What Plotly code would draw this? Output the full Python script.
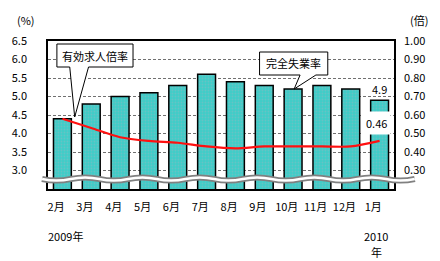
import plotly.graph_objects as go

months = ["2月", "3月", "4月", "5月", "6月", "7月", "8月", "9月", "10月", "11月", "12月", "1月"]
unemployment = [4.4, 4.8, 5.0, 5.1, 5.3, 5.6, 5.4, 5.3, 5.2, 5.3, 5.2, 4.9]
job_ratio = [0.58, 0.53, 0.48, 0.46, 0.45, 0.43, 0.42, 0.43, 0.43, 0.43, 0.43, 0.46]
left_ticks = [3.0, 3.5, 4.0, 4.5, 5.0, 5.5, 6.0, 6.5]
right_ticks = [0.30, 0.40, 0.50, 0.60, 0.70, 0.80, 0.90, 1.00]

FONT = "Noto Sans CJK JP"
W, H = 440, 261
ML, MR, MT, MB = 44, 46, 41, 72
PW, PH = W - ML - MR, H - MT - MB

def px(x):
    return (x - ML) / PW

def py(y):
    return (H - MB - y) / PH

xs = list(range(len(months)))

fig = go.Figure()
fig.add_trace(go.Bar(
    x=xs, y=unemployment, width=0.62,
    marker=dict(color="#3FC9C6", line=dict(color="black", width=1.5),
                pattern=dict(shape=".", fgcolor="#8FB8C0", bgcolor="#3FCCC8", size=3, solidity=0.3)),
    showlegend=False, yaxis="y",
))
fig.add_trace(go.Scatter(
    x=xs, y=job_ratio, mode="lines", yaxis="y2",
    line=dict(color="#FF1010", width=2.2, shape="spline", smoothing=0.8),
    showlegend=False,
))

# broken-axis squiggle
def wave_path(yc, amp, x0, x1, half):
    p = f"M {px(x0)},{py(yc)}"
    x = x0
    sign = 1
    while x < x1:
        xn = x + half
        cx = x + half / 2
        p += f" Q {px(cx)},{py(yc + sign * amp * 2)} {px(xn)},{py(yc)}"
        sign = -sign
        x = xn
    return p

wp = wave_path(179, 1.6, 38, 400, 29)
shapes = [
    dict(type="path", path=wp, xref="paper", yref="paper", line=dict(color="#808080", width=6), layer="above"),
    dict(type="path", path=wp, xref="paper", yref="paper", line=dict(color="white", width=2.5), layer="above"),
]

# callouts
def callout(x0, y0, x1, y1, b0, b1, tip):
    pts = [(x0, y0), (x1, y0), (x1, y1), (b1, y1), tip, (b0, y1), (x0, y1)]
    s = "M " + " L ".join(f"{px(a)},{py(b)}" for a, b in pts) + " Z"
    return dict(type="path", path=s, xref="paper", yref="paper",
                fillcolor="white", line=dict(color="black", width=1), layer="above")

shapes.append(callout(53, 44, 130, 67, 66, 85, (71, 117)))
shapes.append(callout(258, 52, 327, 75, 299, 315, (293, 89)))

def ptext(text, x, y, xanchor="center"):
    return dict(text=text, x=px(x), y=py(y), xref="paper", yref="paper", showarrow=False,
                xanchor=xanchor, yanchor="middle",
                font=dict(family=FONT, size=11, color="black"))

annotations = [
    ptext("有効求人倍率", 91.5, 55.5),
    ptext("完全失業率", 292.5, 63.5),
    ptext("(%)", 22, 20),
    ptext("(倍)", 419, 20),
    ptext("2009年", 42, 236, xanchor="left"),
    ptext("2010", 376, 236),
    ptext("年", 376, 252),
    dict(text=f"{unemployment[-1]:.1f}", x=xs[-1], y=unemployment[-1], xref="x", yref="y",
         showarrow=False, yanchor="bottom", yshift=1,
         font=dict(family=FONT, size=11, color="black")),
    dict(text=f"{job_ratio[-1]:.2f}", x=xs[-1], y=job_ratio[-1], xref="x", yref="y2",
         showarrow=False, yshift=18, xshift=-3, bgcolor="white", borderpad=3,
         font=dict(family=FONT, size=11, color="black")),
]

fig.update_layout(
    width=W, height=H,
    margin=dict(l=ML, r=MR, t=MT, b=MB),
    paper_bgcolor="white", plot_bgcolor="white",
    font=dict(family=FONT, size=11, color="black"),
    xaxis=dict(range=[-0.5, len(months) - 0.5], tickvals=[i - 0.22 for i in xs], ticktext=months,
               showgrid=False, zeroline=False, ticks="", showline=True, linecolor="black",
               linewidth=1.5, mirror=True, ticklabelstandoff=7,
               tickfont=dict(family=FONT, size=11)),
    yaxis=dict(range=[2.5, 6.5], tickvals=left_ticks, ticktext=[f"{v:.1f}" for v in left_ticks],
               showgrid=True, gridcolor="#707070", griddash="3px,2px", gridwidth=1,
               zeroline=False, showline=True, linecolor="black", linewidth=1.5, mirror=True,
               ticks="", ticklabelstandoff=17, tickfont=dict(family=FONT, size=11)),
    yaxis2=dict(range=[0.2, 1.0], tickvals=right_ticks, ticktext=[f"{v:.2f}" for v in right_ticks],
                overlaying="y", side="right", showgrid=False, zeroline=False, ticks="",
                ticklabelstandoff=9, tickfont=dict(family=FONT, size=11)),
    shapes=shapes,
    annotations=annotations,
    bargap=0.38,
)

fig.write_html("out.html")
